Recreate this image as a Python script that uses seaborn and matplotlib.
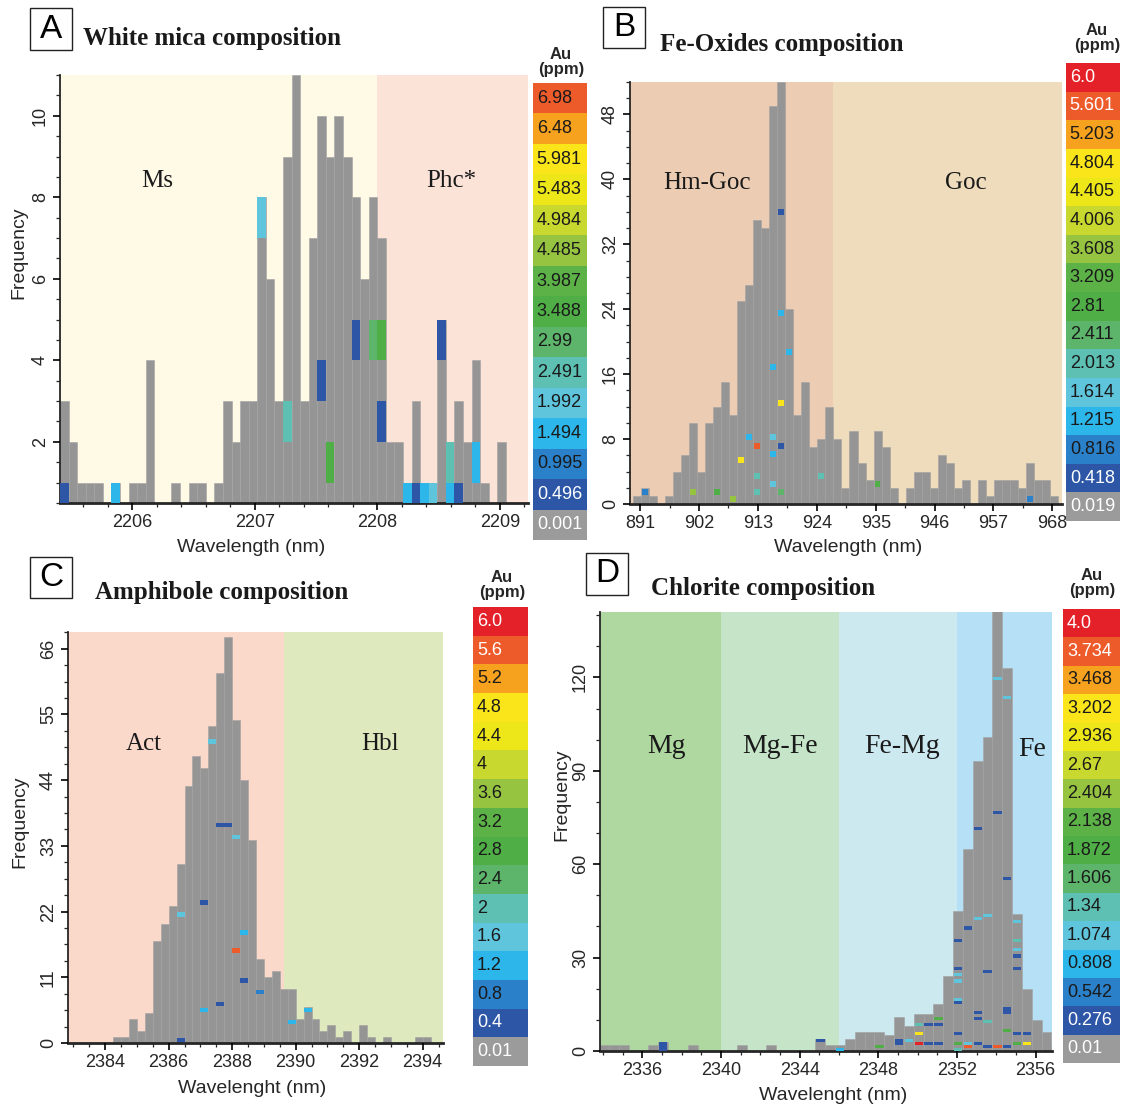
import numpy as np
import pandas as pd
import matplotlib
matplotlib.use("Agg")
import matplotlib.pyplot as plt
import seaborn as sns
from matplotlib.ticker import MultipleLocator, FixedLocator
from matplotlib.patches import Rectangle

# ---------------- data ----------------
# Au (ppm) class colours, low -> high
au_colors = ['#9B9B9B', '#2D56A6', '#2A80C9', '#2DB6EA', '#5FC5DC', '#5DC0B3',
             '#5DB56B', '#50AE47', '#5CB247', '#96C441', '#C9D82E', '#EDE619',
             '#F9E51A', '#F7A21E', '#EE5B2B', '#E42128']

# Panel A : white mica
a_bin_start = 2205.41
a_bin_width = 0.07
a_counts = [3, 2, 1, 1, 1, 0, 1, 0, 1, 1, 4, 0, 0, 1, 0, 1, 1, 0, 1, 3,
            2, 3, 3, 8, 6, 3, 9, 11, 3, 7, 10, 9, 10, 9, 8, 6, 8, 7, 2, 2,
            1, 3, 1, 1, 5, 2, 3, 2, 4, 1, 0, 2]
a_mark_bin = [0, 6, 23, 26, 30, 31, 34, 36, 37, 37, 40, 41, 42, 43, 44, 45, 45, 46, 48]
a_mark_lvl = [0, 0, 7, 2, 3, 1, 4, 4, 4, 2, 0, 0, 0, 0, 4, 1, 0, 0, 1]
a_mark_cls = [1, 3, 4, 5, 1, 7, 1, 6, 7, 1, 3, 1, 3, 4, 1, 5, 3, 1, 3]
a_cbar = ['0.001', '0.496', '0.995', '1.494', '1.992', '2.491', '2.99', '3.488',
          '3.987', '4.485', '4.984', '5.483', '5.981', '6.48', '6.98']
a_regions = [2205.41, 2208.0, 2209.23]
a_region_names = ['Ms', 'Phc*']
a_xticks = [2206, 2207, 2208, 2209]
a_yticks = [2, 4, 6, 8, 10]

# Panel B : Fe-oxides
b_bin_start = 889.6
b_bin_width = 1.5
b_counts = [1, 2, 1, 0, 1, 4, 6, 10, 4, 10, 12, 15, 11, 25, 27, 35, 34, 49, 52, 24,
            11, 15, 7, 8, 12, 8, 2, 9, 5, 3, 9, 7, 2, 0, 2, 4, 4, 2, 6, 5,
            2, 3, 0, 3, 1, 3, 3, 3, 2, 5, 3, 3, 1]
b_mark_bin = [1, 7, 10, 12, 13, 14, 15, 15, 15, 17, 17, 17, 17, 18, 18, 18, 18, 18, 19, 23, 30, 49]
b_mark_freq = [1.45, 1.5, 1.5, 0.6, 5.4, 8.2, 7.2, 3.4, 1.5, 16.9, 8.2, 6.2, 2.5,
               36.0, 23.5, 12.4, 7.2, 1.5, 18.7, 3.4, 2.5, 0.6]
b_mark_cls = [2, 9, 7, 9, 12, 3, 14, 5, 5, 3, 4, 3, 4, 1, 3, 12, 1, 6, 3, 5, 7, 2]
b_cbar = ['0.019', '0.418', '0.816', '1.215', '1.614', '2.013', '2.411', '2.81',
          '3.209', '3.608', '4.006', '4.405', '4.804', '5.203', '5.601', '6.0']
b_regions = [889.1, 927.1, 969.8]
b_region_names = ['Hm-Goc', 'Goc']
b_xticks = [891, 902, 913, 924, 935, 946, 957, 968]
b_yticks = [0, 8, 16, 24, 32, 40, 48]

# Panel C : amphibole
c_bin_start = 2384.25
c_bin_width = 0.25
c_counts = [1, 1, 4, 2, 5, 17, 20, 23, 30, 43, 48, 46, 53, 62, 68, 54, 44, 34, 14, 11,
            12, 9, 9, 4, 6, 4, 2, 3, 1, 2, 0, 3, 1, 0, 1, 0, 0, 0, 1, 1]
c_mark_bin = [12, 13, 14, 15, 11, 8, 16, 15, 16, 18, 13, 11, 8, 22, 24]
c_mark_lvl = [50, 36, 36, 34, 23, 21, 18, 15, 10, 8, 6, 5, 0, 3, 5]
c_mark_cls = [4, 1, 1, 4, 1, 4, 3, 14, 1, 2, 1, 3, 1, 3, 3]
c_cbar = ['0.01', '0.4', '0.8', '1.2', '1.6', '2', '2.4', '2.8',
          '3.2', '3.6', '4', '4.4', '4.8', '5.2', '5.6', '6.0']
c_regions = [2382.83, 2389.64, 2394.64]
c_region_names = ['Act', 'Hbl']
c_xticks = [2384, 2386, 2388, 2390, 2392, 2394]
c_yticks = [0, 11, 22, 33, 44, 55, 66]

# Panel D : chlorite
d_bin_start = 2333.8
d_bin_width = 0.5
d_counts = [2, 2, 2, 0, 0, 2, 3, 0, 0, 2, 0, 0, 0, 0, 2, 0, 0, 2, 0, 0,
            0, 0, 4, 2, 2, 4, 6, 6, 6, 5, 11, 8, 12, 12, 15, 24, 45, 65, 93, 101,
            146, 123, 44, 20, 10, 6, 2]
d_mark_bin = [6, 6, 6, 22, 24, 28, 30, 30, 31, 32, 32, 32, 33, 33, 34, 34, 34,
              36, 36, 36, 36, 36, 36, 36, 36, 36, 37, 37, 37, 38, 38, 38, 38, 38,
              39, 39, 39, 39, 40, 40, 40, 41, 41, 41, 41, 41, 41,
              42, 42, 42, 42, 42, 42, 42, 43, 43]
d_mark_lvl = [0, 1, 2, 3, 0, 1, 3, 2, 3, 8, 5, 2, 8, 2, 10, 8, 2,
              35, 26, 24, 22, 16, 15, 5, 2, 0, 39, 2, 1, 71, 42, 12, 10, 2,
              43, 25, 9, 1, 76, 119, 1, 113, 55, 13, 12, 6, 1,
              41, 35, 32, 30, 26, 5, 2, 5, 2]
d_mark_cls = [1, 1, 1, 1, 3, 7, 1, 1, 4, 5, 12, 15, 1, 1, 7, 1, 1,
              1, 1, 4, 4, 4, 1, 1, 7, 5, 1, 4, 14, 1, 4, 1, 1, 1,
              4, 1, 5, 1, 1, 4, 14, 4, 1, 1, 1, 7, 1,
              4, 5, 4, 1, 1, 1, 7, 1, 12]
d_cbar = ['0.01', '0.276', '0.542', '0.808', '1.074', '1.34', '1.606', '1.872',
          '2.138', '2.404', '2.67', '2.936', '3.202', '3.468', '3.734', '4.0']
d_regions = [2333.84, 2340, 2346, 2352, 2356.83]
d_region_names = ['Mg', 'Mg-Fe', 'Fe-Mg', 'Fe']
d_xticks = [2336, 2340, 2344, 2348, 2352, 2356]
d_yticks = [0, 30, 60, 90, 120]

# ---------------- style ----------------
sns.set_theme(style="ticks")
plt.rcParams['font.family'] = ['Liberation Sans', 'DejaVu Sans']
plt.rcParams['axes.linewidth'] = 1.3
SERIF = ['Liberation Serif', 'DejaVu Serif']
GRAY = '#959595'
EDGE = '#a3a3a3'

W, H = 1134, 1109
fig = plt.figure(figsize=(W / 100, H / 100), dpi=100)
fig.patch.set_facecolor('white')


def add_ax(l, t, r, b):
    return fig.add_axes([l / W, 1 - b / H, (r - l) / W, (b - t) / H])


def draw_hist(ax, start, width, counts):
    n = len(counts)
    edges = start + width * np.arange(n + 1)
    centers = edges[:-1] + width / 2
    df = pd.DataFrame({'wl': centers, 'n': np.asarray(counts, dtype=float)})
    sns.histplot(data=df, x='wl', weights='n', bins=list(edges), color=GRAY,
                 edgecolor=EDGE, linewidth=0.4, alpha=1, ax=ax, zorder=2)
    return centers


def bands(ax, bounds, colors):
    for i, c in enumerate(colors):
        ax.axvspan(bounds[i], bounds[i + 1], color=c, lw=0, zorder=0)


def style_axes(ax, xlim, ylim, xticks, yticks, xminor, yminor, xlabel, ylabel,
               xlab_pos, ylab_pos):
    ax.set_xlim(*xlim)
    ax.set_ylim(*ylim)
    ax.xaxis.set_major_locator(FixedLocator(xticks))
    ax.yaxis.set_major_locator(FixedLocator(yticks))
    ax.xaxis.set_minor_locator(MultipleLocator(xminor))
    ax.yaxis.set_minor_locator(MultipleLocator(yminor))
    ax.tick_params(axis='both', which='major', direction='out', length=5, width=1.2,
                   labelsize=13, pad=3, color='black')
    ax.tick_params(axis='both', which='minor', direction='out', length=3, width=0.9)
    ax.tick_params(axis='y', labelrotation=90)
    for lab in ax.get_yticklabels():
        lab.set_va('center')
    sns.despine(ax=ax)
    ax.spines['bottom'].set_linewidth(2.0)
    ax.spines['left'].set_linewidth(1.3)
    ax.set_xlabel(xlabel, fontsize=14)
    ax.xaxis.set_label_coords(*xlab_pos)
    ax.xaxis.label.set_va('center')
    if ylabel:
        ax.set_ylabel(ylabel, fontsize=14)
        ax.yaxis.set_label_coords(*ylab_pos)
        ax.yaxis.label.set_va('center')
    else:
        ax.set_ylabel('')
    ax.set_axisbelow(False)


def colorbar(l, t, r, b, labels, white, head_xy):
    cax = add_ax(l, t, r, b)
    n = len(labels)
    cax.barh(np.arange(n), 1, height=1.0, left=0, color=au_colors[:n], linewidth=0)
    cax.set_xlim(0, 1)
    cax.set_ylim(-0.5, n - 0.5)
    cax.axis('off')
    for i, lab in enumerate(labels):
        cax.text(0.07, i, lab, ha='left', va='center', fontsize=13,
                 color='white' if i in white else '#1a1a1a')
    fig.text(head_xy[0] / W, 1 - head_xy[1] / H, 'Au\n(ppm)', ha='center', va='center',
             fontsize=12, fontweight='bold', linespacing=1.05)


def panel_label(letter, box, title, title_xy):
    l, t, r, b = box
    fig.patches.append(Rectangle((l / W, 1 - b / H), (r - l) / W, (b - t) / H,
                                 transform=fig.transFigure, fill=False,
                                 edgecolor='#222222', linewidth=1.0))
    fig.text((l + r) / 2 / W, 1 - (t + b) / 2 / H, letter, ha='center', va='center',
             fontsize=24, color='black')
    fig.text(title_xy[0] / W, 1 - title_xy[1] / H, title, ha='left', va='center',
             fontsize=18, fontweight='bold', family=SERIF, color='#1a1a1a')


# ---------------- Panel A ----------------
axA = add_ax(60, 75, 528, 503)
bands(axA, a_regions, ['#FEFAE6', '#FBE3D8'])
cA = draw_hist(axA, a_bin_start, a_bin_width, a_counts)
axA.bar(cA[a_mark_bin], 1, bottom=a_mark_lvl, width=a_bin_width,
        color=[au_colors[k] for k in a_mark_cls], linewidth=0, zorder=3)
style_axes(axA, (a_regions[0], a_regions[-1]), (0.5, 11.0), a_xticks, a_yticks, 0.2, 0.5,
           'Wavelength (nm)', 'Frequency', (0.408, -0.105), (-0.087, 0.584))
for name, x in zip(a_region_names, [2206.2, 2208.6]):
    axA.text(x, 8.4, name, ha='center', va='center', fontsize=18, family=SERIF, color='#1a1a1a')
colorbar(533, 83, 587, 540, a_cbar, {0, 1}, (561, 62))
panel_label('A', (30, 8, 72, 50), 'White mica composition', (83, 39))

# ---------------- Panel B ----------------
axB = add_ax(630, 82, 1062, 504)
bands(axB, b_regions, ['#ECCDB3', '#EEDCBC'])
cB = draw_hist(axB, b_bin_start, b_bin_width, b_counts)
axB.bar(cB[b_mark_bin], 0.75, bottom=np.array(b_mark_freq) - 0.375, width=0.72 * b_bin_width,
        color=[au_colors[k] for k in b_mark_cls], linewidth=0, zorder=3)
style_axes(axB, (b_regions[0], b_regions[-1]), (0, 52), b_xticks, b_yticks, 5.5, 2,
           'Wavelength (nm)', None, (0.505, -0.104), None)
for name, x in zip(b_region_names, [903.5, 951.8]):
    axB.text(x, 39.6, name, ha='center', va='center', fontsize=18, family=SERIF, color='#1a1a1a')
colorbar(1066, 63, 1120, 521, b_cbar, {0, 1, 14, 15}, (1097, 38))
panel_label('B', (603, 7, 645, 48), 'Fe-Oxides composition', (660, 44))

# ---------------- Panel C ----------------
axC = add_ax(68, 632, 443, 1043)
bands(axC, c_regions, ['#FAD9CB', '#DEE9BE'])
cC = draw_hist(axC, c_bin_start, c_bin_width, c_counts)
axC.bar(cC[c_mark_bin], 0.75, bottom=np.array(c_mark_lvl) + 0.12, width=c_bin_width,
        color=[au_colors[k] for k in c_mark_cls], linewidth=0, zorder=3)
style_axes(axC, (c_regions[0], c_regions[-1]), (0, 68.8), c_xticks, c_yticks, 0.5, 2.75,
           'Wavelenght (nm)', 'Frequency', (0.491, -0.11), (-0.128, 0.538))
for name, x in zip(c_region_names, [2385.2, 2392.66]):
    axC.text(x, 50, name, ha='center', va='center', fontsize=18, family=SERIF, color='#1a1a1a')
colorbar(473, 607, 528, 1066, c_cbar, {0, 1, 14, 15}, (502, 585))
panel_label('C', (30, 557, 72, 598), 'Amphibole composition', (95, 592))

# ---------------- Panel D ----------------
axD = add_ax(600, 612, 1052, 1051)
bands(axD, d_regions, ['#AED8A0', '#C6E4C8', '#CDE9F0', '#B6E0F6'])
cD = draw_hist(axD, d_bin_start, d_bin_width, d_counts)
axD.bar(cD[d_mark_bin], 1.0, bottom=d_mark_lvl, width=0.85 * d_bin_width,
        color=[au_colors[k] for k in d_mark_cls], linewidth=0, zorder=3)
style_axes(axD, (d_regions[0], d_regions[-1]), (0, 141), d_xticks, d_yticks, 1, 10,
           'Wavelenght (nm)', 'Frequency', (0.516, -0.1025), (-0.084, 0.583))
for name, x, y in zip(d_region_names, [2337.2, 2343.0, 2349.2, 2355.8], [97.7, 97.7, 97.7, 96.7]):
    axD.text(x, y, name, ha='center', va='center', fontsize=20, family=SERIF, color='#1a1a1a')
colorbar(1063, 609, 1120, 1063, d_cbar, {0, 1, 14, 15}, (1092, 583))
panel_label('D', (586, 553, 628, 595), 'Chlorite composition', (651, 589))

fig.savefig('out.png', dpi=100, facecolor='white')
